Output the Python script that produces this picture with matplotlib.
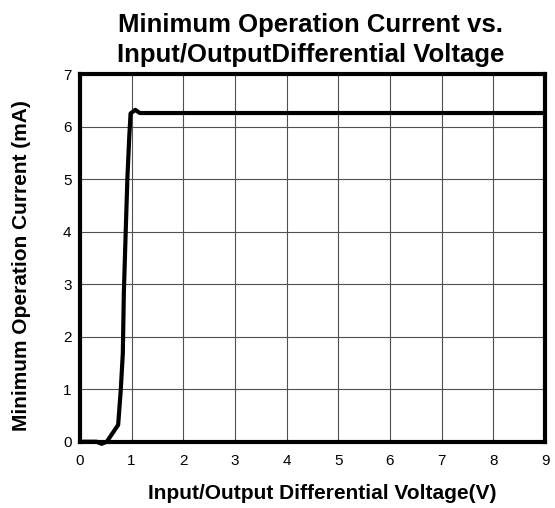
import matplotlib
matplotlib.use('Agg')
import matplotlib.pyplot as plt

plt.rcParams['font.family'] = ['Liberation Sans', 'DejaVu Sans']

# curve
voltage = [0.0, 0.32, 0.42, 0.52, 0.74, 0.79, 0.83, 0.85, 0.885, 0.92, 0.955, 0.98, 1.07, 1.16, 9.0]
current = [0.0, 0.0, -0.04, 0.0, 0.32, 0.98, 1.68, 2.83, 3.97, 5.05, 5.81, 6.25, 6.32, 6.26, 6.26]

x_ticks = list(range(0, 10))
y_ticks = list(range(0, 8))

fig = plt.figure(figsize=(5.55, 5.08), dpi=100)
ax = fig.add_axes([0.144, 0.1305, 0.838, 0.7235])

ax.plot(voltage, current, color='black', lw=3.0, solid_joinstyle='round', solid_capstyle='round', clip_on=False)
ax.set_xlim(0, 9)
ax.set_ylim(0, 7)
ax.set_xticks(x_ticks)
ax.set_yticks(y_ticks)
ax.tick_params(length=0, labelsize=11)
ax.tick_params(axis='x', pad=9)
ax.tick_params(axis='y', pad=6)
ax.grid(True, color='#505050', lw=0.8)
for s in ax.spines.values():
    s.set_linewidth(3)

ax.set_title('Minimum Operation Current vs.\nInput/OutputDifferential Voltage',
             fontsize=18.5, fontweight='bold', pad=9, linespacing=1.3, x=0.496)
ax.set_xlabel('Input/Output Differential Voltage(V)', fontsize=15, fontweight='bold')
ax.set_ylabel('Minimum Operation Current (mA)', fontsize=15, fontweight='bold')
ax.xaxis.set_label_coords(0.522, -0.115)
ax.yaxis.set_label_coords(-0.105, 0.478)

fig.savefig('out.png', dpi=100)
